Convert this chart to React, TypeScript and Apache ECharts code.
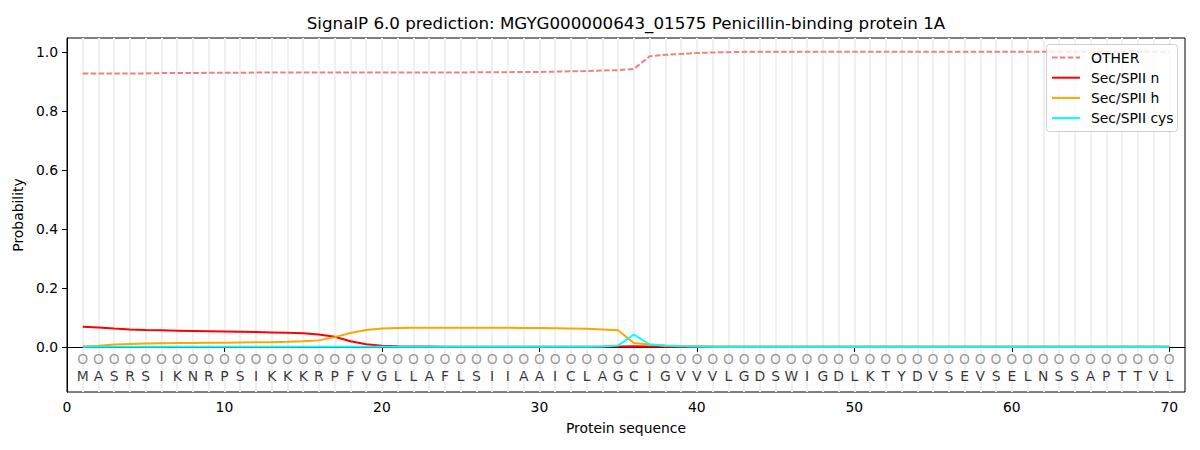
import React, { useEffect, useRef } from "react";
import * as echarts from "echarts";

const TITLE = "SignalP 6.0 prediction: MGYG000000643_01575 Penicillin-binding protein 1A";
const SEQUENCE = "MASRSIKNRPSIKKKRPFVGLLAFLSIIAAICLAGCIGVVVLGDSWIGDLKTYDVSEVSELNSSAPTTVL".split("");

const OTHER = [
  0.927, 0.927, 0.927, 0.927, 0.927, 0.928, 0.928, 0.928, 0.929, 0.929,
  0.929, 0.930, 0.930, 0.930, 0.930, 0.930, 0.930, 0.930, 0.930, 0.930,
  0.930, 0.930, 0.930, 0.930, 0.930, 0.931, 0.931, 0.931, 0.932, 0.932,
  0.933, 0.934, 0.935, 0.937, 0.938, 0.942, 0.985, 0.990, 0.993, 0.996,
  0.998, 0.999, 1.0, 1.0, 1.0, 1.0, 1.0, 1.0, 1.0, 1.0,
  1.0, 1.0, 1.0, 1.0, 1.0, 1.0, 1.0, 1.0, 1.0, 1.0,
  1.0, 1.0, 1.0, 1.0, 1.0, 1.0, 1.0, 1.0, 1.0, 1.0,
];
const SEC_N = [
  0.068, 0.066, 0.062, 0.059, 0.057, 0.056, 0.055, 0.054, 0.053, 0.052,
  0.051, 0.050, 0.049, 0.048, 0.046, 0.042, 0.034, 0.019, 0.009, 0.004,
  0.002, 0.001, 0.001, 0, 0, 0, 0, 0, 0, 0,
  0, 0, 0, 0, 0.001, 0.002, 0.001, 0, 0, 0,
  0, 0, 0, 0, 0, 0, 0, 0, 0, 0,
  0, 0, 0, 0, 0, 0, 0, 0, 0, 0,
  0, 0, 0, 0, 0, 0, 0, 0, 0, 0,
];
const SEC_H = [
  0.001, 0.004, 0.008, 0.010, 0.011, 0.012, 0.013, 0.013, 0.014, 0.014,
  0.015, 0.016, 0.016, 0.017, 0.019, 0.022, 0.033, 0.047, 0.057, 0.062,
  0.064, 0.065, 0.065, 0.065, 0.065, 0.065, 0.065, 0.065, 0.064, 0.064,
  0.063, 0.062, 0.061, 0.059, 0.056, 0.013, 0.008, 0.005, 0.003, 0.002,
  0.001, 0, 0, 0, 0, 0, 0, 0, 0, 0,
  0, 0, 0, 0, 0, 0, 0, 0, 0, 0,
  0, 0, 0, 0, 0, 0, 0, 0, 0, 0,
];
const SEC_CYS = [
  0, 0, 0, 0, 0, 0, 0, 0, 0, 0,
  0, 0, 0, 0, 0, 0, 0, 0, 0, 0,
  0, 0, 0, 0, 0, 0, 0, 0, 0, 0,
  0, 0, 0, 0.001, 0.005, 0.042, 0.008, 0.004, 0.002, 0.001,
  0, 0, 0, 0, 0, 0, 0, 0, 0, 0,
  0, 0, 0, 0, 0, 0, 0, 0, 0, 0,
  0, 0, 0, 0, 0, 0, 0, 0, 0, 0,
];
const X_TICKS = [0, 10, 20, 30, 40, 50, 60, 70];
const Y_TICKS = [0, 0.2, 0.4, 0.6, 0.8, 1.0];
const LEGEND_NAMES = ["OTHER", "Sec/SPII n", "Sec/SPII h", "Sec/SPII cys"];
const LEGEND_COLORS = ["#f08080", "#ff0000", "#ffa500", "#00ffff"];

const FONT = "DejaVu Sans";
const DASH = [5.5, 2.4];

export default function App() {
  const ref = useRef<HTMLDivElement>(null);
  useEffect(() => {
    if (!ref.current) return;
    const chart = echarts.init(ref.current, undefined, { renderer: "svg" });
    const pos = SEQUENCE.map((_, i) => i + 1);
    const pts = (arr: number[]) => arr.map((v, i) => [i + 1, v]);
    const lineSeries = (name: string, data: number[], color: string, dashed = false) => ({
      name,
      type: "line",
      data: pts(data),
      symbol: "none",
      z: 3,
      lineStyle: { color, width: 2, type: dashed ? DASH : "solid" },
      itemStyle: { color },
    });

    const legendX = 1046.5;
    const legendY = 44.5;
    const legendItems: any[] = [
      {
        type: "rect",
        shape: { x: legendX, y: legendY, width: 131, height: 87, r: 3 },
        style: { fill: "rgba(255,255,255,0.8)", stroke: "#d0d0d0", lineWidth: 1 },
        z: 10,
      },
    ];
    LEGEND_NAMES.forEach((name, i) => {
      const y = 57.5 + i * 20.2;
      legendItems.push({
        type: "line",
        shape: { x1: 1052, y1: y, x2: 1080, y2: y },
        style: { stroke: LEGEND_COLORS[i], lineWidth: 2, lineDash: i === 0 ? DASH : null },
        z: 11,
      });
      legendItems.push({
        type: "text",
        x: 1091,
        y,
        style: { text: name, fontFamily: FONT, fontSize: 13.9, fill: "#000", textVerticalAlign: "middle" },
        z: 11,
      });
    });

    chart.setOption({
      animation: false,
      textStyle: { fontFamily: FONT },
      grid: { left: 67, right: 15, top: 38, bottom: 58, show: true, borderColor: "#000", borderWidth: 1, backgroundColor: "transparent" },
      graphic: [
        {
          type: "text",
          x: 626,
          y: 23,
          style: { text: TITLE, fontFamily: FONT, fontSize: 16.7, fill: "#000", textAlign: "center", textVerticalAlign: "middle" },
        },
        ...legendItems,
      ],
      xAxis: {
        type: "value",
        min: 0,
        max: 71,
        name: "Protein sequence",
        nameLocation: "middle",
        nameGap: 29,
        nameTextStyle: { fontFamily: FONT, fontSize: 13.9, color: "#000" },
        axisLine: { show: true, lineStyle: { color: "#000" } },
        axisTick: { show: true, length: 5, customValues: X_TICKS, lineStyle: { color: "#000" } },
        axisLabel: { customValues: X_TICKS, margin: 8, fontFamily: FONT, fontSize: 13.9, color: "#000" },
        splitLine: { show: false },
      },
      yAxis: {
        type: "value",
        min: -0.153,
        max: 1.047,
        name: "Probability",
        nameLocation: "middle",
        nameGap: 38,
        nameTextStyle: { fontFamily: FONT, fontSize: 13.9, color: "#000" },
        axisLine: { show: true, lineStyle: { color: "#000" } },
        axisTick: { show: true, length: 5, customValues: Y_TICKS, lineStyle: { color: "#000" } },
        axisLabel: {
          customValues: Y_TICKS,
          margin: 9,
          fontFamily: FONT,
          fontSize: 13.9,
          color: "#000",
          formatter: (v: number) => v.toFixed(1),
        },
        splitLine: { show: false },
      },
      series: [
        {
          name: "grid-lines",
          type: "line",
          data: [],
          z: 0,
          silent: true,
          markLine: {
            silent: true,
            z: 0,
            symbol: ["none", "none"],
            label: { show: false },
            emphasis: { disabled: true },
            lineStyle: { color: "#f0f0f0", width: 2, type: "solid" },
            data: pos.map((x) => ({ xAxis: x })),
          },
        },
        lineSeries("OTHER", OTHER, "#f08080", true),
        lineSeries("Sec/SPII n", SEC_N, "#ff0000"),
        lineSeries("Sec/SPII h", SEC_H, "#ffa500"),
        lineSeries("Sec/SPII cys", SEC_CYS, "#00ffff"),
        {
          name: "circles",
          type: "scatter",
          symbolSize: 1,
          itemStyle: { color: "transparent" },
          silent: true,
          z: 4,
          data: pos.map((x) => [x, -0.04]),
          label: { show: true, position: "inside", formatter: "O", fontFamily: FONT, fontSize: 13.9, color: "#808080" },
        },
        {
          name: "residues",
          type: "scatter",
          symbolSize: 1,
          itemStyle: { color: "transparent" },
          silent: true,
          z: 4,
          data: SEQUENCE.map((r, i) => [i + 1, -0.1, r]),
          label: {
            show: true,
            position: "inside",
            formatter: (p: any) => p.value[2],
            fontFamily: FONT,
            fontSize: 13.9,
            color: "#000",
          },
        },
      ],
    });
    return () => chart.dispose();
  }, []);
  return <div ref={ref} style={{ position: "fixed", left: 0, top: 0, width: 1200, height: 450, background: "#fff" }} />;
}
